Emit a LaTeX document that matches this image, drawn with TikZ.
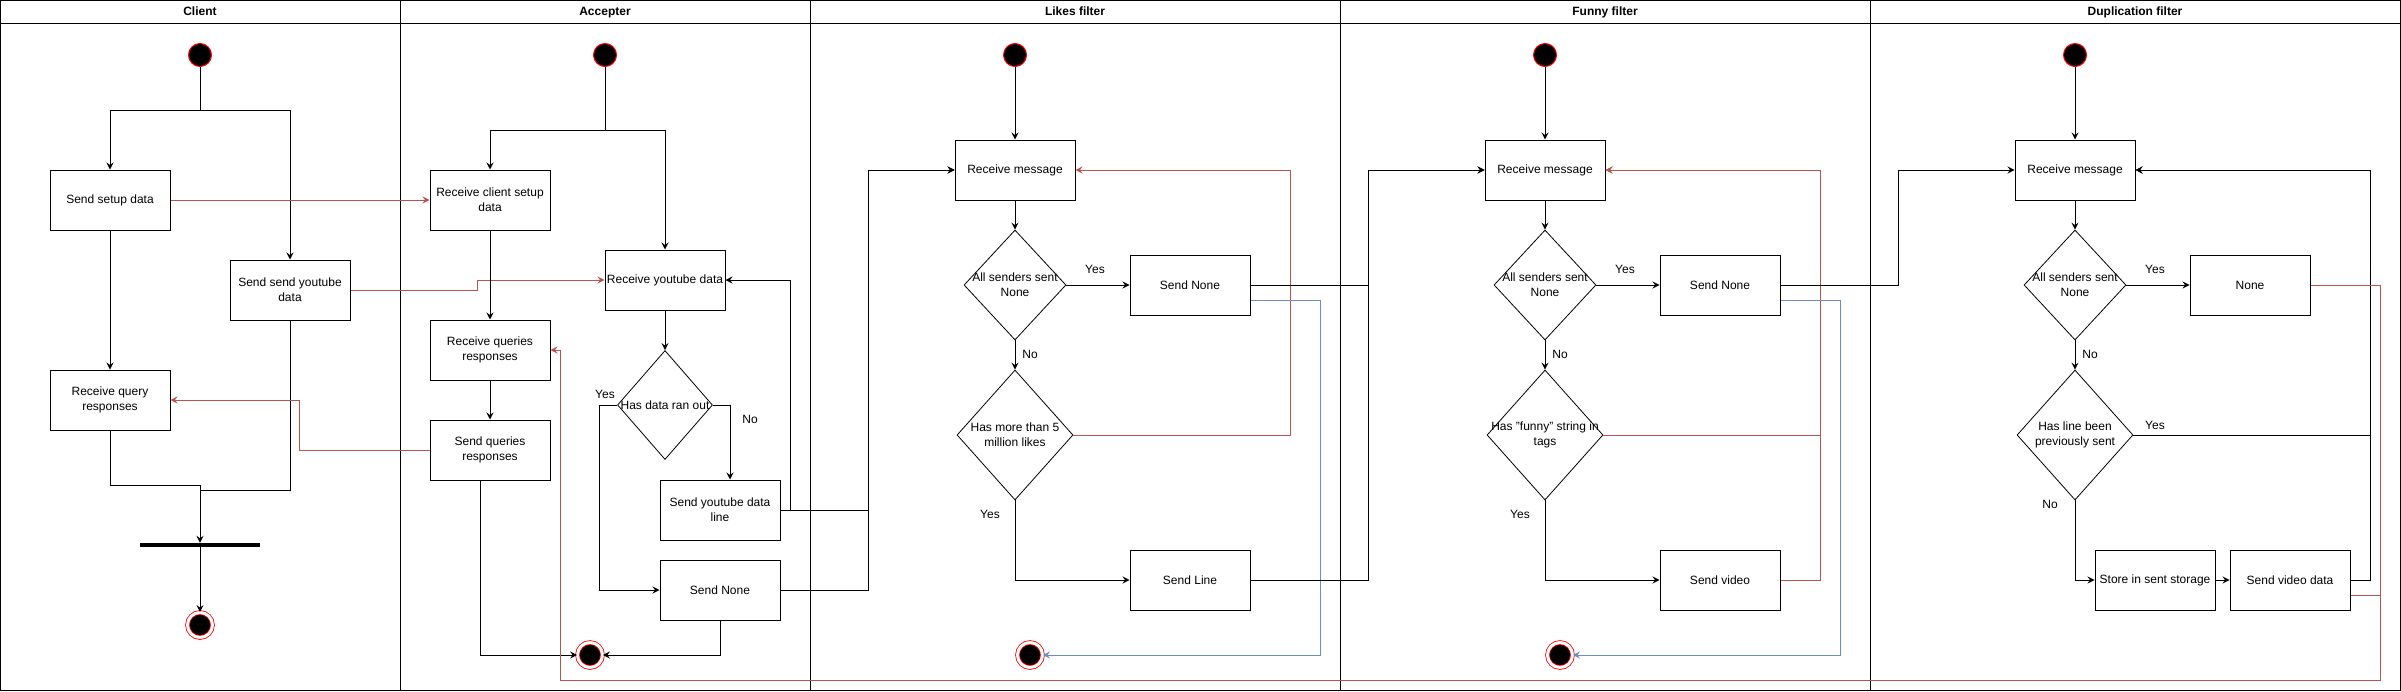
\documentclass[tikz,border=0pt]{standalone}
\usepackage{fontspec}
\setmainfont{Liberation Sans}
\usetikzlibrary{arrows.meta, shapes.geometric}
\definecolor{flowred}{HTML}{B85450}
\definecolor{flowblue}{HTML}{6C8EBF}

\begin{document}
\begin{tikzpicture}[x=1pt, y=-1pt, font=\fontsize{12}{15}\selectfont,
        act/.style={draw, line width=1pt, minimum width=120pt, minimum height=60pt, inner sep=0pt, align=center},
        dec/.style={draw, diamond, line width=0.8pt, inner sep=0pt},
        start/.style={circle, draw=red, fill=black, line width=1pt, minimum size=23pt, inner sep=0pt},
        stop/.style={circle, draw=red, fill=black, line width=0.8pt, double=white, double distance=3pt, minimum size=25pt, inner sep=0pt},
        bar/.style={fill=black, minimum width=120pt, minimum height=4pt, inner sep=0pt},
        ttl/.style={font=\fontsize{12}{15}\selectfont\bfseries, text height=8.6pt, text depth=2.5pt, inner sep=0pt},
        lbl/.style={inner sep=0pt},
        line/.style={line width=1pt},
        arr/.style={line width=1pt, -{Stealth[length=7pt, width=7pt, inset=2.5pt]}},
        rarr/.style={arr, draw=flowred},
        barr/.style={arr, draw=flowblue}]
        \useasboundingbox (0,0) rectangle (2401,691);
        \draw[line width=1pt] (0.5,0.5) rectangle (2400,690);
        \draw[line width=1pt] (0.5,23) -- (2400,23);
        \foreach \x in {400,810,1340,1870}
                \draw[line width=0.9pt] (\x,0.5) -- (\x,690);
        \node[ttl] (tC) at (200,12) {Client};
        \node[ttl] (tA) at (605,12) {Accepter};
        \node[ttl] (tL) at (1075,12) {Likes filter};
        \node[ttl] (tF) at (1605,12) {Funny filter};
        \node[ttl] (tD) at (2135,12) {Duplication filter};

        \node[start] (cS) at (200,55) {};
        \node[act] (c1) at (110,200) {Send setup data};
        \node[act] (c2) at (290,290) {Send send youtube\\data};
        \node[act] (c3) at (110,400) {Receive query\\responses};
        \node[bar] (cB) at (200,545) {};
        \node[stop] (cE) at (200,625) {};
        \coordinate (cF) at (200,110);
        \coordinate (cJ) at (200,485);

        \node[start] (aS) at (605,55) {};
        \node[act] (a1) at (490,200) {Receive client setup\\data};
        \node[act] (a2) at (665,280) {Receive youtube data};
        \node[act] (a3) at (490,350) {Receive queries\\responses};
        \node[act] (a4) at (490,450) {Send queries\\responses};
        \node[dec, minimum width=95pt, minimum height=109pt, label=center:Has data ran out] (aD) at (665,405) {};
        \node[act] (a5) at (720,510) {Send youtube data\\line};
        \node[act] (a6) at (720,590) {Send None};
        \node[stop] (aE) at (590,655) {};
        \node[lbl] (aY) at (605,394) {Yes};
        \node[lbl] (aN) at (750,419) {No};
        \coordinate (aF) at (605,130);

        \node[start] (lS) at (1015,55) {};
        \node[act] (l1) at (1015,170) {Receive message};
        \node[dec, minimum width=102pt, minimum height=110pt, label={[align=center]center:All senders sent\\None}] (lD1) at (1015,285) {};
        \node[act] (l2) at (1190,285) {Send None};
        \node[dec, minimum width=116pt, minimum height=130pt, label={[align=center]center:Has more than 5\\million likes}] (lD2) at (1015,435) {};
        \node[act] (l3) at (1190,580) {Send Line};
        \node[stop] (lE) at (1030,655) {};
        \node[lbl] (lY1) at (1095,269) {Yes};
        \node[lbl] (lN1) at (1030,354) {No};
        \node[lbl] (lY2) at (990,514) {Yes};
        \coordinate (lIn) at (868,170);
        \coordinate (lR) at (1290,170);
        \coordinate (lB) at (1320,655);

        \node[start] (fS) at (1545,55) {};
        \node[act] (f1) at (1545,170) {Receive message};
        \node[dec, minimum width=102pt, minimum height=110pt, label={[align=center]center:All senders sent\\None}] (fD1) at (1545,285) {};
        \node[act] (f2) at (1720,285) {Send None};
        \node[dec, minimum width=116pt, minimum height=130pt, label={[align=center]center:Has "funny" string in\\tags}] (fD2) at (1545,435) {};
        \node[act] (f3) at (1720,580) {Send video};
        \node[stop] (fE) at (1560,655) {};
        \node[lbl] (fY1) at (1625,269) {Yes};
        \node[lbl] (fN1) at (1560,354) {No};
        \node[lbl] (fY2) at (1520,514) {Yes};
        \coordinate (fIn) at (1368,170);
        \coordinate (fR) at (1820,170);
        \coordinate (fB) at (1840,655);

        \node[start] (dS) at (2075,55) {};
        \node[act] (d1) at (2075,170) {Receive message};
        \node[dec, minimum width=102pt, minimum height=110pt, label={[align=center]center:All senders sent\\None}] (dD1) at (2075,285) {};
        \node[act] (d2) at (2250,285) {None};
        \node[dec, minimum width=116pt, minimum height=130pt, label={[align=center]center:Has line been\\previously sent}] (dD2) at (2075,435) {};
        \node[act] (d3) at (2155,580) {Store in sent storage};
        \node[act] (d4) at (2290,580) {Send video data};
        \node[lbl] (dY1) at (2155,269) {Yes};
        \node[lbl] (dN1) at (2090,354) {No};
        \node[lbl] (dY2) at (2155,425) {Yes};
        \node[lbl] (dN2) at (2050,504) {No};
        \coordinate (dIn) at (1898,170);
        \coordinate (dR) at (2370,170);
        \coordinate (rR) at (2380,680);
        \coordinate (rL) at (560,680);

        \draw[line] (cS) -- (cF);
        \draw[arr] (cF) -| (c1);
        \draw[arr] (cF) -| (c2);
        \draw[arr] (c1) -- (c3);
        \draw[line] (c3) |- (cJ);
        \draw[line] (c2) |- ([yshift=-5pt]cJ) -- (cJ);
        \draw[arr] (cJ) -- (cB);
        \draw[arr] (cB) -- (cE);
        \draw[rarr] (c1) -- (a1);
        \draw[rarr] (c2.east) -- ++(127,0) |- (a2);
        \draw[rarr] (a4.west) -- ++(-130,0) |- (c3);

        \draw[line] (aS) -- (aF);
        \draw[arr] (aF) -| (a1);
        \draw[arr] (aF) -| (a2);
        \draw[arr] (a1) -- (a3);
        \draw[arr] (a3) -- (a4);
        \draw[arr] ([xshift=-10pt]a4.south) |- (aE);
        \draw[arr] (a2) -- (aD);
        \draw[arr] (aD.west) -- ++(-18,0) |- (a6);
        \draw[arr] (aD.east) -| ([xshift=10pt]a5.north);
        \draw[arr] (a5.east) -- ++(10,0) |- (a2);
        \draw[arr] (a6) |- (aE);
        \draw[arr] (a5.east) -| (lIn) -- (l1);
        \draw[arr] (a6.east) -| (lIn) -- (l1);

        \draw[arr] (lS) -- (l1);
        \draw[arr] (l1) -- (lD1);
        \draw[arr] (lD1) -- (l2);
        \draw[arr] (lD1) -- (lD2);
        \draw[arr] (lD2) |- (l3);
        \draw[rarr] (lD2.east) -| (lR) -- (l1);
        \draw[barr] ([yshift=-15pt]l2.east) -| (lB) -- (lE);
        \draw[arr] (l2.east) -| (fIn) -- (f1);
        \draw[arr] (l3.east) -| (fIn) -- (f1);

        \draw[arr] (fS) -- (f1);
        \draw[arr] (f1) -- (fD1);
        \draw[arr] (fD1) -- (f2);
        \draw[arr] (fD1) -- (fD2);
        \draw[arr] (fD2) |- (f3);
        \draw[rarr] (fD2.east) -| (fR) -- (f1);
        \draw[rarr] (f3.east) -| (fR) -- (f1);
        \draw[barr] ([yshift=-15pt]f2.east) -| (fB) -- (fE);
        \draw[arr] (f2.east) -| (dIn) -- (d1);

        \draw[arr] (dS) -- (d1);
        \draw[arr] (d1) -- (dD1);
        \draw[arr] (dD1) -- (d2);
        \draw[arr] (dD1) -- (dD2);
        \draw[arr] (dD2) |- (d3);
        \draw[arr] (d3) -- (d4);
        \draw[arr] (dD2.east) -| (dR) -- (d1);
        \draw[arr] (d4.east) -| (dR) -- (d1);
        \draw[rarr] (d2.east) -| (rR) -- (rL) |- (a3);
        \draw[line, flowred] ([yshift=-15pt]d4.east) -| (rR);
\end{tikzpicture}
\end{document}
